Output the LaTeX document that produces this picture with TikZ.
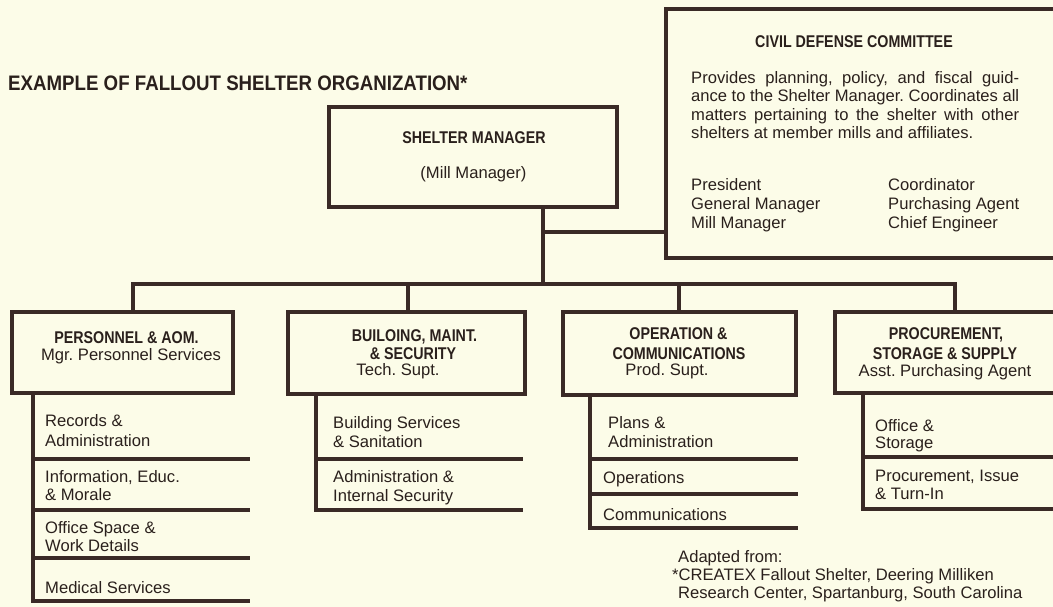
\documentclass[tikz,border=0pt]{standalone}
\usepackage{fontspec}
\setmainfont{Liberation Sans}
\newfontfamily\condbf{Liberation Sans}[FakeStretch=0.84]
\usepackage{graphicx}
\definecolor{bg}{HTML}{FCFCE8}
\definecolor{ink}{HTML}{3A2A26}
\definecolor{txt}{HTML}{2A201C}
\begin{document}
\frenchspacing
\begin{tikzpicture}[x=1pt,y=-1pt,
  bx/.style={draw=ink,line width=3.1pt,inner sep=0pt},
  ln/.style={draw=ink,line width=3.1pt},
  tx/.style={inner sep=0pt,text height=11.8pt,text depth=0pt,text=txt,font=\fontsize{16.6}{18.6}\selectfont},
  hd/.style={inner sep=0pt,text height=12.2pt,text depth=0pt,text=txt,font=\fontsize{17}{20}\condbf\bfseries},
  ttl/.style={inner sep=0pt,text height=15pt,text depth=0pt,text=txt,font=\fontsize{21}{24}\selectfont\bfseries}
]
\useasboundingbox (0,0) rectangle (1053,607);
\fill[bg] (0,0) rectangle (1053,607);

% title
\node[ttl,anchor=west] (title) at (8,83) {\scalebox{0.89}[1]{EXAMPLE OF FALLOUT SHELTER ORGANIZATION*}};

% shelter manager
\node[bx,minimum width=288pt,minimum height=100pt] (sm) at (473,157) {};
\node[hd] (smt) at (474,137) {SHELTER MANAGER};
\node[tx] (smn) at (473.5,173) {(Mill Manager)};

% civil defense committee
\node[bx,minimum width=404pt,minimum height=249pt] (cd) at (868,133.5) {};
\node[hd] (cdt) at (854,41) {CIVIL DEFENSE COMMITTEE};
\node[inner sep=0pt,anchor=north west,text width=328pt,align=justify,text=txt,font=\fontsize{16.6}{18.6}\selectfont] (cdp) at (691,70.8)
 {Provides planning, policy, and fiscal guid-\linebreak ance to the Shelter Manager. Coordinates all\linebreak matters pertaining to the shelter with other\linebreak shelters at member mills and affiliates.};
\node[tx,anchor=west] (m1) at (691,185) {President};
\node[tx,anchor=west] (m2) at (691,204) {General Manager};
\node[tx,anchor=west] (m3) at (691,223) {Mill Manager};
\node[tx,anchor=west] (m4) at (888,185) {Coordinator};
\node[tx,anchor=west] (m5) at (888,204) {Purchasing Agent};
\node[tx,anchor=west] (m6) at (888,223) {Chief Engineer};

% departments
\node[bx,minimum width=221pt,minimum height=81pt] (d1) at (122.5,352.5) {};
\node[bx,minimum width=237pt,minimum height=82pt] (d2) at (406.5,353) {};
\node[bx,minimum width=233pt,minimum height=83pt] (d3) at (679.5,353.5) {};
\node[bx,minimum width=240pt,minimum height=81pt] (d4) at (955,352.5) {};

\node[hd] (h11) at (126.5,337) {PERSONNEL \& AOM.};
\node[tx] (h12) at (131,355) {Mgr. Personnel Services};
\node[hd] (h21) at (414.5,335) {BUILOING, MAINT.};
\node[hd] (h22) at (413,353) {\& SECURITY};
\node[tx] (h23) at (398,370) {Tech. Supt.};
\node[hd] (h31) at (678.5,333) {OPERATION \&};
\node[hd] (h32) at (679,353) {COMMUNICATIONS};
\node[tx] (h33) at (667,370) {Prod. Supt.};
\node[hd] (h41) at (946,333) {PROCUREMENT,};
\node[hd] (h42) at (945,353) {STORAGE \& SUPPLY};
\node[tx] (h43) at (945,371) {Asst. Purchasing Agent};

% connectors
\coordinate (j1) at (543,232);
\coordinate (j2) at (543,284);
\draw[ln] (sm.south -| j1) -- (j2);
\draw[ln] (j1) -- (j1 -| cd.west);
\coordinate (b1) at (133,284);
\coordinate (b2) at (408,284);
\coordinate (b3) at (679,284);
\coordinate (b4) at (955,284);
\draw[ln] (b1 |- d1.north) -- (b1) -- (b4) -- (b4 |- d4.north);
\draw[ln] (b2) -- (b2 |- d2.north);
\draw[ln] (b3) -- (b3 |- d3.north);

% sub-list 1
\coordinate (v1) at (33,601);
\coordinate (e11) at (250,459);
\coordinate (e12) at (250,510);
\coordinate (e13) at (250,558);
\coordinate (e14) at (250,601);
\draw[ln] (d1.south -| v1) -- (v1) -- (e14);
\draw[ln] (v1 |- e11) -- (e11);
\draw[ln] (v1 |- e12) -- (e12);
\draw[ln] (v1 |- e13) -- (e13);
\node[tx,anchor=west] (s11) at (45,421) {Records \&};
\node[tx,anchor=west] (s12) at (45,441) {Administration};
\node[tx,anchor=west] (s13) at (45,477) {Information, Educ.};
\node[tx,anchor=west] (s14) at (45,495) {\& Morale};
\node[tx,anchor=west] (s15) at (45,528) {Office Space \&};
\node[tx,anchor=west] (s16) at (45,546) {Work Details};
\node[tx,anchor=west] (s17) at (45,588) {Medical Services};

% sub-list 2
\coordinate (v2) at (316,510);
\coordinate (e21) at (523,459);
\coordinate (e22) at (523,510);
\draw[ln] (d2.south -| v2) -- (v2) -- (e22);
\draw[ln] (v2 |- e21) -- (e21);
\node[tx,anchor=west] (s21) at (333,423) {Building Services};
\node[tx,anchor=west] (s22) at (333,442) {\& Sanitation};
\node[tx,anchor=west] (s23) at (333,477) {Administration \&};
\node[tx,anchor=west] (s24) at (333,496) {Internal Security};

% sub-list 3
\coordinate (v3) at (590,528);
\coordinate (e31) at (798,459);
\coordinate (e32) at (798,494);
\coordinate (e33) at (798,528);
\draw[ln] (d3.south -| v3) -- (v3) -- (e33);
\draw[ln] (v3 |- e31) -- (e31);
\draw[ln] (v3 |- e32) -- (e32);
\node[tx,anchor=west] (s31) at (608,423) {Plans \&};
\node[tx,anchor=west] (s32) at (608,442) {Administration};
\node[tx,anchor=west] (s33) at (603,478) {Operations};
\node[tx,anchor=west] (s34) at (603,515) {Communications};

% sub-list 4
\coordinate (v4) at (863,509);
\coordinate (e41) at (1062,457);
\coordinate (e42) at (1062,509);
\draw[ln] (d4.south -| v4) -- (v4) -- (e42);
\draw[ln] (v4 |- e41) -- (e41);
\node[tx,anchor=west] (s41) at (875,426) {Office \&};
\node[tx,anchor=west] (s42) at (875,443) {Storage};
\node[tx,anchor=west] (s43) at (875,476) {Procurement, Issue};
\node[tx,anchor=west] (s44) at (875,494) {\& Turn-In};

% footnote
\node[tx,anchor=west] (f1) at (678,557) {Adapted from:};
\node[tx,anchor=west] (f2) at (672,575) {*CREATEX Fallout Shelter, Deering Milliken};
\node[tx,anchor=west] (f3) at (678,593) {Research Center, Spartanburg, South Carolina};
\end{tikzpicture}
\end{document}
